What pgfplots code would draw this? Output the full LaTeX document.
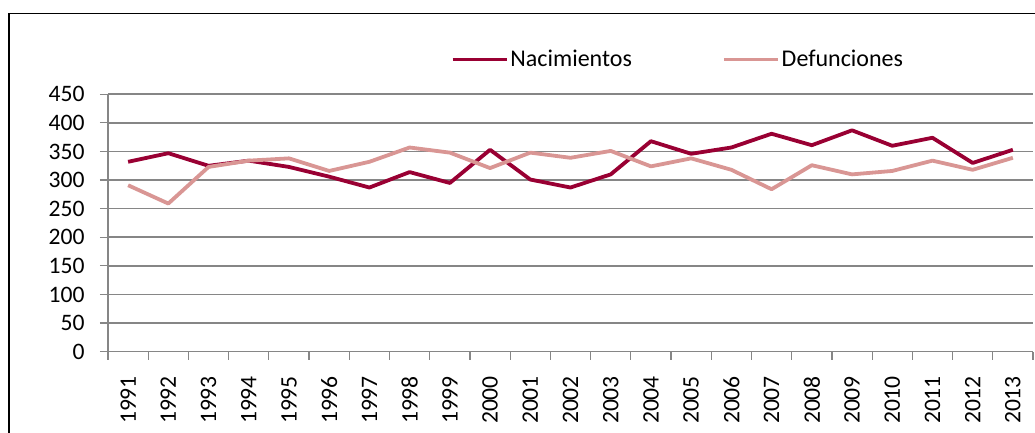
\documentclass[border=0pt]{standalone}
\usepackage{pgfplots}
\pgfplotsset{compat=1.18}
\usepackage{fontspec}
\setmainfont{Carlito}
\definecolor{nac}{RGB}{153,0,51}
\definecolor{def}{RGB}{217,150,148}
\definecolor{axgray}{RGB}{134,134,134}
\begin{document}
\begin{tikzpicture}
\useasboundingbox (0,0) rectangle (517.5pt,216.5pt);
\draw[line width=0.9pt] (4.5pt,-2pt) -- (4.5pt,209.75pt) -- (520pt,209.75pt);
\begin{axis}[
  at={(54pt,40.65pt)}, anchor=south west,
  scale only axis,
  width=462.5pt, height=128.7pt,
  font=\fontsize{11.8}{14}\selectfont,
  xmin=-0.5, xmax=22.5,
  ymin=0, ymax=450,
  ytick={0,50,...,450},
  xtick={0,...,22},
  xticklabels={1991,1992,1993,1994,1995,1996,1997,1998,1999,2000,2001,2002,2003,2004,2005,2006,2007,2008,2009,2010,2011,2012,2013},
  minor xtick={-0.5,0.5,...,22.5},
  major x tick style={draw=none},
  tick align=outside,
  major tick length=4pt,
  minor tick length=4pt,
  tick style={axgray, line width=0.6pt},
  axis x line*=bottom, axis y line*=left,
  axis line style={axgray, line width=0.6pt, -},
  ymajorgrids,
  grid style={axgray, line width=0.8pt},
  xticklabel style={rotate=90, anchor=east, inner sep=0pt},
  xticklabel shift=8pt,
  yticklabel style={anchor=east, inner sep=0pt, xshift=-7.5pt},
  /pgf/number format/assume math mode=true,
  legend columns=2,
  legend style={draw=none, fill=none, inner sep=0pt, at={(0.3700,1.135)}, anchor=west,
    font=\fontsize{12}{14}\selectfont,
    nodes={inner sep=1pt}},
  legend cell align=left,
  legend image code/.code={\draw[#1] (0pt,0pt) -- (27pt,0pt);},
  /tikz/every even column/.append style={column sep=44pt},
]
\addplot[nac, line width=1.9pt, line join=round] table {
x y
0 332
1 347
2 325
3 334
4 323
5 306
6 287
7 314
8 295
9 353
10 301
11 287
12 310
13 368
14 346
15 357
16 381
17 361
18 387
19 360
20 374
21 330
22 353
};
\addlegendentry{Nacimientos}
\addplot[def, line width=1.9pt, line join=round] table {
x y
0 291
1 259
2 323
3 334
4 338
5 316
6 332
7 357
8 348
9 321
10 348
11 339
12 351
13 324
14 338
15 318
16 284
17 326
18 310
19 316
20 334
21 318
22 339
};
\addlegendentry{Defunciones}
\end{axis}
\end{tikzpicture}
\end{document}
